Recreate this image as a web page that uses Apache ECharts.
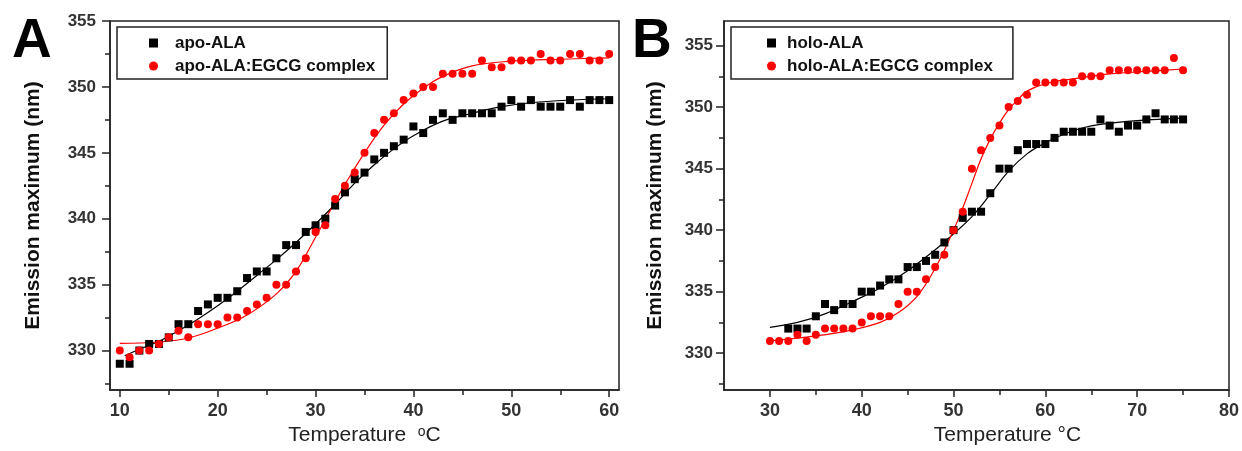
<!DOCTYPE html>
<html>
<head>
<meta charset="utf-8">
<script src="https://cdn.jsdelivr.net/npm/echarts@6/dist/echarts.min.js"></script>
<style>
  html, body { margin: 0; padding: 0; background: #fff; }
  #chart { width: 1242px; height: 451px; }
</style>
</head>
<body>
<div id="chart"></div>
<script>
// 面板 A: apo-ALA
const tempA = [10, 11, 12, 13, 14, 15, 16, 17, 18, 19, 20, 21, 22, 23, 24, 25, 26, 27, 28, 29, 30,
  31, 32, 33, 34, 35, 36, 37, 38, 39, 40, 41, 42, 43, 44, 45, 46, 47, 48, 49, 50,
  51, 52, 53, 54, 55, 56, 57, 58, 59, 60];
const apoALA = [329, 329, 330, 330.5, 330.5, 331, 332, 332, 333, 333.5, 334, 334, 334.5, 335.5, 336, 336, 337, 338, 338, 339, 339.5,
  340, 341, 342, 343, 343.5, 344.5, 345, 345.5, 346, 347, 346.5, 347.5, 348, 347.5, 348, 348, 348, 348, 348.5, 349,
  348.5, 349, 348.5, 348.5, 348.5, 349, 348.5, 349, 349, 349];
const apoEGCG = [330, 329.5, 330, 330, 330.5, 331, 331.5, 331, 332, 332, 332, 332.5, 332.5, 333, 333.5, 334, 335, 335, 336, 337, 339,
  339.5, 341.5, 342.5, 343.5, 345, 346.5, 347.5, 348, 349, 349.5, 350, 350, 351, 351, 351, 351, 352, 351.5, 351.5, 352,
  352, 352, 352.5, 352, 352, 352.5, 352.5, 352, 352, 352.5];
// 拟合曲线
const fitApoX = [10.5, 12, 14, 16, 18, 20, 22, 24, 26, 28, 30, 32, 34, 36, 38, 40, 43, 46, 49, 52, 56, 60];
const fitApoY = [329.6, 330.1, 330.7, 331.5, 332.4, 333.4, 334.5, 335.7, 336.9, 338.2, 339.6, 341.1, 342.7, 344.1, 345.3, 346.3, 347.4, 348.0, 348.5, 348.8, 349.0, 349.1];
const fitApoEgcgX = [10, 14, 17, 20, 23, 26, 28, 30, 32, 33, 35, 37, 39, 41, 43, 46, 50, 55, 60];
const fitApoEgcgY = [330.55, 330.65, 330.95, 331.7, 332.7, 334.3, 336.0, 338.6, 341.3, 342.6, 345.0, 347.1, 348.7, 349.9, 350.8, 351.6, 351.95, 352.1, 352.2];

// 面板 B: holo-ALA
const tempHolo = [32, 33, 34, 35, 36, 37, 38, 39, 40, 41, 42, 43, 44, 45, 46, 47, 48, 49, 50,
  51, 52, 53, 54, 55, 56, 57, 58, 59, 60, 61, 62, 63, 64, 65, 66, 67, 68, 69, 70, 71, 72, 73, 74, 75];
const holoALA = [332, 332, 332, 333, 334, 333.5, 334, 334, 335, 335, 335.5, 336, 336, 337, 337, 337.5, 338, 339, 340,
  341, 341.5, 341.5, 343, 345, 345, 346.5, 347, 347, 347, 347.5, 348, 348, 348, 348, 349, 348.5, 348, 348.5, 348.5, 349, 349.5, 349, 349, 349];
const tempHoloEgcg = [30, 31, 32, 33, 34, 35, 36, 37, 38, 39, 40, 41, 42, 43, 44, 45, 46, 47, 48, 49, 50,
  51, 52, 53, 54, 55, 56, 57, 58, 59, 60, 61, 62, 63, 64, 65, 66, 67, 68, 69, 70, 71, 72, 73, 74, 75];
const holoEGCG = [331, 331, 331, 331.5, 331, 331.5, 332, 332, 332, 332, 332.5, 333, 333, 333, 334, 335, 335, 336, 337, 338, 340,
  341.5, 345, 346.5, 347.5, 348.5, 350, 350.5, 351, 352, 352, 352, 352, 352, 352.5, 352.5, 352.5, 353, 353, 353, 353, 353, 353, 353, 354, 353];
const fitHoloX = [30, 33, 36, 39, 42, 45, 48, 50, 52, 54, 56, 58, 60, 62, 64, 66, 70, 75];
const fitHoloY = [332.1, 332.5, 333.2, 334.2, 335.3, 336.7, 338.4, 339.7, 341.1, 342.9, 344.8, 346.2, 347.1, 347.8, 348.3, 348.6, 348.9, 349.1];
const fitHoloEgcgX = [30, 35, 39, 42, 44, 46, 48, 50, 51, 52, 53, 54, 55, 56, 57, 58, 60, 63, 67, 71, 75];
const fitHoloEgcgY = [331.0, 331.4, 331.9, 332.5, 333.3, 334.6, 336.9, 340.0, 341.8, 343.8, 345.8, 347.4, 348.7, 349.8, 350.6, 351.3, 351.9, 352.3, 352.7, 352.9, 353.1];

// 刻度
const ticksAX = [10, 20, 30, 40, 50, 60];
const minorAX = [15, 25, 35, 45, 55];
const ticksBX = [30, 40, 50, 60, 70, 80];
const minorBX = [35, 45, 55, 65, 75];
const ticksY = [330, 335, 340, 345, 350, 355];
const minorY = [327.5, 332.5, 337.5, 342.5, 347.5, 352.5];

const zip = (xs, ys) => xs.map((x, i) => [x, ys[i]]);

const FONT = '"Liberation Sans", Arial, sans-serif';
const AXIS_COLOR = '#222';

function mainX(grid, min, max, ticks, name, nameStyle) {
  return {
    type: 'value', gridIndex: grid, min, max, position: 'bottom',
    axisLine: { show: true, onZero: false, lineStyle: { color: AXIS_COLOR, width: 1.5 } },
    axisTick: { show: true, length: 7, customValues: ticks, lineStyle: { color: AXIS_COLOR, width: 1.5 } },
    axisLabel: { customValues: ticks, margin: 12, color: '#333', fontSize: 18, fontWeight: 'bold', fontFamily: FONT },
    splitLine: { show: false },
    name, nameLocation: 'middle', nameGap: 31,
    nameTextStyle: Object.assign({ color: '#222', fontSize: 21, fontFamily: FONT }, nameStyle)
  };
}
function mainY(grid, min, max, gap, labelMargin) {
  return {
    type: 'value', gridIndex: grid, min, max, position: 'left',
    axisLine: { show: true, onZero: false, lineStyle: { color: AXIS_COLOR, width: 1.5 } },
    axisTick: { show: true, length: 8, customValues: ticksY, lineStyle: { color: AXIS_COLOR, width: 1.5 } },
    axisLabel: { customValues: ticksY, margin: labelMargin, color: '#333', fontSize: 17, fontWeight: 'bold', fontFamily: FONT },
    splitLine: { show: false },
    name: 'Emission maximum (nm)', nameLocation: 'middle', nameGap: gap,
    nameTextStyle: { color: '#111', fontSize: 21, fontWeight: 'bold', fontFamily: FONT }
  };
}
// 次刻度：叠加在同一位置的空轴
function minorAxis(grid, min, max, ticks, position) {
  return {
    type: 'value', gridIndex: grid, min, max, position,
    axisLine: { show: false, onZero: false },
    axisTick: { show: true, length: 5, customValues: ticks, lineStyle: { color: AXIS_COLOR, width: 1.5 } },
    axisLabel: { show: false },
    splitLine: { show: false }
  };
}

const scatter = (name, idx, data, symbol, color) => ({
  name, type: 'scatter', xAxisIndex: idx, yAxisIndex: idx, data,
  symbol, symbolSize: 8, itemStyle: { color, opacity: 1 }, z: 3
});
const fit = (name, idx, data, color) => ({
  name, type: 'line', xAxisIndex: idx, yAxisIndex: idx, data,
  showSymbol: false, smooth: 0.4, silent: true, lineStyle: { color, width: 1.2 }, z: 2
});

const legendBase = {
  orient: 'vertical', top: 27, itemWidth: 9, itemHeight: 9, itemGap: 5,
  borderColor: AXIS_COLOR, borderWidth: 1.5, borderRadius: 0,
  selectedMode: false,
  textStyle: { color: '#111', fontSize: 17, fontWeight: 'bold', fontFamily: FONT, lineHeight: 18 }
};

const chart = echarts.init(document.getElementById('chart'));
chart.setOption({
  animation: false,
  backgroundColor: '#fff',
  grid: [
    { left: 110, width: 509, top: 21, height: 375, show: true, borderColor: AXIS_COLOR, borderWidth: 1.5 },
    { left: 724, width: 508, top: 21, height: 375, show: true, borderColor: AXIS_COLOR, borderWidth: 1.5 }
  ],
  xAxis: [
    mainX(0, 9, 61, ticksAX, 'Temperature  {sup|o}C', {
      rich: { sup: { fontSize: 14, verticalAlign: 'top', lineHeight: 12, fontFamily: FONT, color: '#222' } }
    }),
    mainX(1, 25, 80, ticksBX, 'Temperature °C', { padding: [0, 0, 0, 62] }),
    minorAxis(0, 9, 61, minorAX, 'bottom'),
    minorAxis(1, 25, 80, minorBX, 'bottom')
  ],
  yAxis: [
    mainY(0, 327, 355, 66, 14),
    mainY(1, 327, 357, 58, 11),
    minorAxis(0, 327, 355, minorY, 'left'),
    minorAxis(1, 327, 357, minorY, 'left')
  ],
  legend: [
    Object.assign({}, legendBase, {
      left: 117, padding: [7, 12, 4, 32],
      textStyle: Object.assign({}, legendBase.textStyle, { padding: [0, 0, 0, 12] }),
      data: ['apo-ALA', 'apo-ALA:EGCG complex']
    }),
    Object.assign({}, legendBase, {
      left: 731, padding: [7, 20, 4, 36],
      textStyle: Object.assign({}, legendBase.textStyle, { padding: [0, 0, 0, 6] }),
      data: ['holo-ALA', 'holo-ALA:EGCG complex']
    })
  ],
  graphic: [
    { type: 'text', left: 12, top: 14, style: { text: 'A', font: 'bold 55px ' + FONT, fill: '#000' } },
    { type: 'text', left: 632, top: 14, style: { text: 'B', font: 'bold 55px ' + FONT, fill: '#000' } }
  ],
  series: [
    fit('fit-apo', 0, zip(fitApoX, fitApoY), '#000'),
    fit('fit-apo-egcg', 0, zip(fitApoEgcgX, fitApoEgcgY), '#ff0000'),
    scatter('apo-ALA', 0, zip(tempA, apoALA), 'rect', '#000'),
    scatter('apo-ALA:EGCG complex', 0, zip(tempA, apoEGCG), 'circle', '#ff0000'),
    fit('fit-holo', 1, zip(fitHoloX, fitHoloY), '#000'),
    fit('fit-holo-egcg', 1, zip(fitHoloEgcgX, fitHoloEgcgY), '#ff0000'),
    scatter('holo-ALA', 1, zip(tempHolo, holoALA), 'rect', '#000'),
    scatter('holo-ALA:EGCG complex', 1, zip(tempHoloEgcg, holoEGCG), 'circle', '#ff0000')
  ]
});
</script>
</body>
</html>
